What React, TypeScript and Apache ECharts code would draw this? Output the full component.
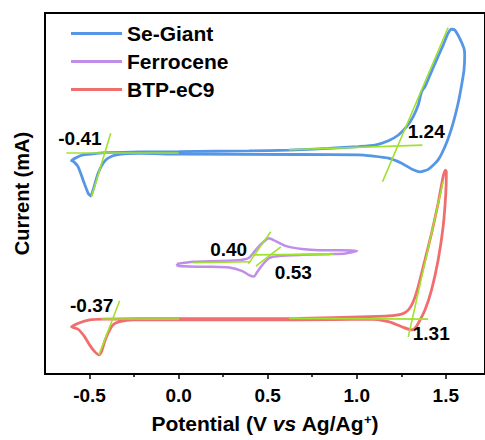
import React, { useEffect, useRef } from 'react';
import * as echarts from 'echarts';

// ---- data (potential in V vs Ag/Ag+, current in arbitrary units) ----
const seGiantPotential = [0.0, 0.395, 0.619, 0.842, 1.01, 1.103, 1.178, 1.234, 1.28, 1.317, 1.345, 1.364, 1.383, 1.411, 1.448, 1.485, 1.513, 1.531, 1.55, 1.578, 1.602, 1.606, 1.602, 1.587, 1.569, 1.541, 1.503, 1.457, 1.401, 1.355, 1.308, 1.252, 1.178, 1.084, 1.01, 0.675, 0.0, -0.219, -0.35, -0.396, -0.424, -0.452, -0.48, -0.493, -0.508, -0.536, -0.564, -0.591, -0.601, -0.573, -0.536, -0.461, -0.405, -0.219, 0.0];
const seGiantCurrent = [61.6, 61.8, 62.0, 62.5, 63.0, 63.4, 64.6, 66.2, 68.5, 71.3, 74.5, 78.2, 79.6, 82.8, 87.0, 91.1, 94.4, 95.5, 95.3, 93.0, 90.2, 88.4, 84.2, 79.6, 75.0, 69.5, 63.9, 59.3, 56.7, 56.0, 56.8, 58.4, 59.8, 60.4, 60.7, 60.8, 60.9, 61.1, 60.7, 59.8, 58.4, 55.6, 51.0, 49.3, 50.1, 53.7, 57.4, 58.9, 59.1, 60.0, 60.7, 61.1, 61.3, 61.5, 61.6];

const ferrocenePotential = [-0.01, 0.079, 0.228, 0.349, 0.395, 0.433, 0.479, 0.507, 0.545, 0.6, 0.693, 0.787, 0.917, 1.001, 0.936, 0.842, 0.693, 0.563, 0.507, 0.47, 0.442, 0.423, 0.395, 0.358, 0.284, 0.172, 0.06, -0.005, -0.01];
const ferroceneCurrent = [30.5, 31.1, 31.3, 31.6, 32.2, 34.4, 36.7, 37.6, 36.8, 35.5, 34.6, 34.3, 34.3, 34.1, 33.4, 33.2, 33.0, 32.7, 32.1, 30.2, 28.3, 27.0, 27.4, 28.5, 29.5, 29.7, 29.8, 30.0, 30.5];

const btpPotential = [0.0, 0.674, 1.066, 1.178, 1.252, 1.289, 1.317, 1.345, 1.383, 1.42, 1.457, 1.485, 1.498, 1.503, 1.5, 1.485, 1.457, 1.42, 1.383, 1.345, 1.327, 1.308, 1.252, 1.178, 1.066, 0.674, 0.0, -0.257, -0.331, -0.369, -0.396, -0.415, -0.433, -0.447, -0.471, -0.499, -0.527, -0.564, -0.601, -0.555, -0.499, -0.424, -0.219, 0.0];
const btpCurrent = [15.3, 15.4, 15.9, 16.1, 16.6, 17.7, 20.0, 24.2, 31.6, 39.0, 47.3, 54.7, 56.5, 56.0, 50.1, 40.8, 31.6, 23.3, 17.7, 14.0, 12.7, 12.2, 13.1, 14.5, 15.2, 15.0, 15.0, 15.0, 14.5, 13.6, 11.3, 9.0, 6.2, 5.3, 6.2, 8.0, 10.3, 12.4, 13.1, 14.2, 15.0, 15.2, 15.3, 15.3];

// tangent (onset) lines
const tangentStartPotential = [-0.63, -0.489, 0.619, 1.145, 0.079, 0.391, 0.414, 0.434, -0.433, -0.447, 0.619, 1.289];
const tangentStartCurrent = [61.4, 49.1, 62.1, 53.3, 30.8, 30.5, 33.0, 29.9, 15.4, 5.3, 15.4, 10.2];
const tangentEndPotential = [0.0, -0.381, 1.368, 1.513, 0.405, 0.517, 0.87, 0.574, 0.004, -0.331, 1.401, 1.485];
const tangentEndCurrent = [61.4, 66.7, 63.4, 96.0, 31.1, 39.4, 33.2, 35.2, 15.4, 20.3, 15.2, 53.3];

// onset value labels
const onsetLabels = ['-0.41', '1.24', '0.40', '0.53', '-0.37', '1.31'];
const onsetLabelPotential = [-0.554, 1.39, 0.281, 0.644, -0.488, 1.418];
const onsetLabelCurrent = [65.1, 67.3, 34.6, 28.0, 19.1, 11.2];

const majorTicks = [-0.5, 0, 0.5, 1.0, 1.5];
const minorTicks = [-0.25, 0.25, 0.75, 1.25];

const seriesNames = ['Se-Giant', 'Ferrocene', 'BTP-eC9'];

const FONT = '"Liberation Sans", Arial, Helvetica, sans-serif';
const COLORS = ['#5596e6', '#c08ee8', '#f06e6e'];
const GREEN = '#9fe22e';

const zip = (xs: number[], ys: number[]) => xs.map((x, i) => [x, ys[i]]);

export default function App() {
  const ref = useRef<HTMLDivElement>(null);

  useEffect(() => {
    if (!ref.current) return;
    const chart = echarts.init(ref.current, null, { renderer: 'svg' });

    const curves = [
      zip(seGiantPotential, seGiantCurrent),
      zip(ferrocenePotential, ferroceneCurrent),
      zip(btpPotential, btpCurrent),
    ];

    const option: any = {
      animation: false,
      grid: {
        left: 45,
        right: -2,
        top: 13,
        bottom: 66,
        show: true,
        borderColor: '#000',
        borderWidth: 2,
        backgroundColor: 'transparent',
      },
      legend: {
        data: seriesNames,
        orient: 'vertical',
        left: 71,
        top: 23,
        padding: 0,
        itemGap: 7,
        itemWidth: 51,
        itemHeight: 3,
        icon: 'rect',
        selectedMode: false,
        textStyle: {
          color: '#000',
          fontSize: 21,
          lineHeight: 21,
          fontWeight: 'bold',
          fontFamily: FONT,
        },
      },
      xAxis: [
        {
          type: 'value',
          min: -0.75,
          max: 1.72,
          axisLine: { show: true, onZero: false, lineStyle: { color: '#000', width: 2 } },
          axisTick: {
            show: true,
            customValues: majorTicks,
            length: 5,
            lineStyle: { color: '#000', width: 1.5 },
          },
          axisLabel: {
            customValues: majorTicks,
            formatter: (v: number) => v.toFixed(1),
            margin: 12,
            color: '#000',
            fontSize: 19,
            fontWeight: 'bold',
            fontFamily: FONT,
          },
          splitLine: { show: false },
          name: 'Potential (V {it|vs} Ag/Ag{sup|+})',
          nameLocation: 'middle',
          nameGap: 39,
          nameTextStyle: {
            color: '#000',
            fontSize: 21,
            fontWeight: 'bold',
            fontFamily: FONT,
            rich: {
              it: { fontSize: 21, fontWeight: 'bold', fontStyle: 'italic', fontFamily: FONT, color: '#000' },
              sup: { fontSize: 13, fontWeight: 'bold', fontFamily: FONT, color: '#000', verticalAlign: 'top' },
            },
          },
        },
        {
          type: 'value',
          min: -0.75,
          max: 1.72,
          position: 'bottom',
          axisLine: { show: false, onZero: false },
          axisTick: {
            show: true,
            customValues: minorTicks,
            length: 3,
            lineStyle: { color: '#000', width: 1.5 },
          },
          axisLabel: { show: false },
          splitLine: { show: false },
        },
      ],
      yAxis: {
        type: 'value',
        min: 0,
        max: 100,
        axisLine: { show: true, onZero: false, lineStyle: { color: '#000', width: 2 } },
        axisTick: { show: false },
        axisLabel: { show: false },
        splitLine: { show: false },
        name: 'Current (mA)',
        nameLocation: 'middle',
        nameRotate: 90,
        nameGap: 13,
        nameTextStyle: {
          color: '#000',
          fontSize: 20,
          fontWeight: 'bold',
          fontFamily: FONT,
        },
      },
      series: [
        ...seriesNames.map((name, i) => ({
          name,
          type: 'line',
          data: curves[i],
          showSymbol: false,
          smooth: 0.2,
          z: 2,
          color: COLORS[i],
          lineStyle: { color: COLORS[i], width: i === 1 ? 2.5 : 2.8 },
        })),
        {
          name: 'onset',
          type: 'lines',
          coordinateSystem: 'cartesian2d',
          z: 3,
          lineStyle: { color: GREEN, width: 1.6, opacity: 1 },
          data: tangentStartPotential.map((x, i) => ({
            coords: [
              [x, tangentStartCurrent[i]],
              [tangentEndPotential[i], tangentEndCurrent[i]],
            ],
          })),
        },
        {
          name: 'labels',
          type: 'scatter',
          z: 4,
          symbol: 'circle',
          symbolSize: 0.01,
          itemStyle: { color: '#000', opacity: 1 },
          label: {
            show: true,
            position: 'inside',
            formatter: (p: any) => p.name,
            color: '#000',
            textBorderWidth: 0,
            opacity: 1,
            fontSize: 19,
            fontWeight: 'bold',
            fontFamily: FONT,
          },
          data: onsetLabels.map((t, i) => ({
            name: t,
            value: [onsetLabelPotential[i], onsetLabelCurrent[i]],
          })),
        },
      ],
    };

    chart.setOption(option);
    return () => chart.dispose();
  }, []);

  return (
    <div
      ref={ref}
      style={{ position: 'fixed', left: 0, top: 0, width: 485, height: 440, background: '#fff' }}
    />
  );
}
